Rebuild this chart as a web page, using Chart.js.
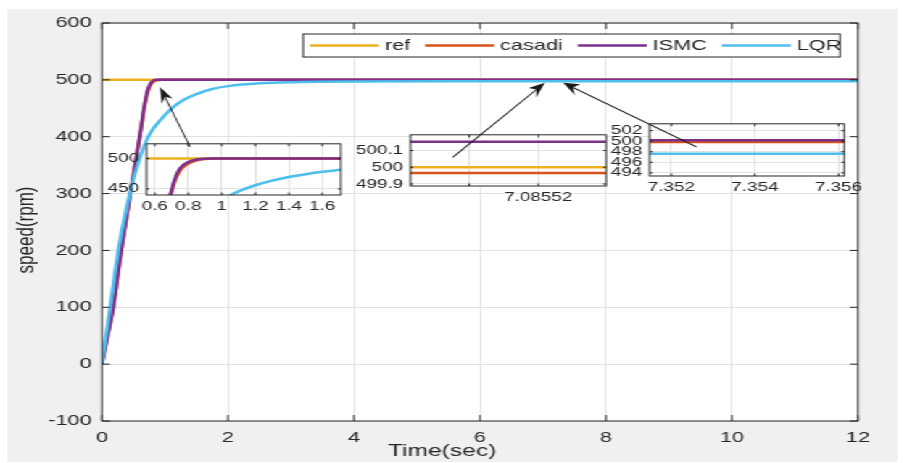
<!DOCTYPE html>
<html>
<head>
<meta charset="utf-8">
<script src="https://cdn.jsdelivr.net/npm/chart.js@4.4.0/dist/chart.umd.min.js"></script>
<style>
  html, body { margin: 0; padding: 0; background: #fff; overflow: hidden; }
  /* the reference figure is stretched sideways, so the whole stage is too */
  #stage { position: absolute; left: 0; top: 0; width: 623px; height: 463px; transform: scaleX(1.45); transform-origin: 0 0; }
  #figure { position: absolute; left: 4.8px; top: 9px; width: 614px; height: 453px; background: #f0f0f0; }
  canvas { position: absolute; }
</style>
</head>
<body>
<div id="stage">
  <div id="figure"></div>
  <canvas id="mainChart" width="623" height="463" style="left:0;top:0"></canvas>
  <canvas id="zoom1"></canvas>
  <canvas id="zoom2"></canvas>
  <canvas id="zoom3"></canvas>
  <canvas id="arrows" width="623" height="463" style="left:0;top:0"></canvas>
</div>
<script>
// ============================
// Data
// ============================
const seriesNames = ["ref", "casadi", "ISMC", "LQR"];
const seriesColors = ["#EDB120", "#D95319", "#7E2F8E", "#4DBEEE"];
const xAxisTitle = "Time(sec)";
const yAxisTitle = "speed(rpm)";

// main plot
const refTime = [0, 12];
const refSpeed = [500, 500];
const casadiTime = [0, 0.1, 0.18, 0.3, 0.45, 0.6, 0.68, 0.72, 0.76, 0.8, 0.86, 0.95, 12];
const casadiSpeed = [0, 55, 100, 195, 300, 400, 455, 476, 488, 495, 499, 500, 500];
const ismcTime = [0, 0.1, 0.18, 0.3, 0.45, 0.6, 0.68, 0.72, 0.76, 0.8, 0.86, 0.95, 12];
const ismcSpeed = [0, 55, 100, 195, 300, 400, 459, 480, 492, 497.5, 500, 500, 500];
const lqrTime = [0, 0.13, 0.26, 0.4, 0.5, 0.6, 0.7, 0.8, 0.95, 1.13, 1.3, 1.5, 1.75, 2, 2.5, 3, 4, 6, 12];
const lqrSpeed = [0, 100, 200, 280, 325, 362, 392, 412, 432, 452, 465, 475, 484, 489, 494, 496, 497.3, 497.6, 497.6];
const timeTicks = [0, 2, 4, 6, 8, 10, 12];
const speedTicks = [-100, 0, 100, 200, 300, 400, 500, 600];

// zoom 1 (rise)
const zoom1RefTime = [0.55, 1.71];
const zoom1RefSpeed = [500, 500];
const zoom1CasadiTime = [0.69, 0.7, 0.72, 0.75, 0.8, 0.85, 0.9, 0.96, 1.71];
const zoom1CasadiSpeed = [436, 445, 463, 480, 491.5, 497, 499.2, 500, 500];
const zoom1IsmcTime = [0.69, 0.7, 0.72, 0.75, 0.8, 0.85, 0.9, 0.96, 1.71];
const zoom1IsmcSpeed = [438, 448, 467, 484, 494, 498.2, 499.6, 500, 500];
const zoom1LqrTime = [1.04, 1.1, 1.2, 1.3, 1.4, 1.5, 1.6, 1.71];
const zoom1LqrSpeed = [438, 446, 456, 463.5, 469.5, 474, 478, 481.5];
const zoom1TimeTicks = [0.6, 0.8, 1, 1.2, 1.4, 1.6];
const zoom1SpeedTicks = [450, 500];

// zoom 2 (t ~ 7.0855)
const zoom2Time = [7.0855015, 7.0855298];
const zoom2RefSpeed = [500, 500];
const zoom2CasadiSpeed = [499.965, 499.965];
const zoom2IsmcSpeed = [500.153, 500.153];
const zoom2LqrSpeed = [497.6, 497.6];
const zoom2TimeTicks = [7.08551, 7.08552];
const zoom2TimeLabels = ["", "7.08552"];
const zoom2SpeedTicks = [499.9, 500, 500.1];

// zoom 3 (t ~ 7.354)
const zoom3Time = [7.35148, 7.35614];
const zoom3RefSpeed = [500, 500];
const zoom3CasadiSpeed = [499.85, 499.85];
const zoom3IsmcSpeed = [500.2, 500.2];
const zoom3LqrSpeed = [497.6, 497.6];
const zoom3TimeTicks = [7.352, 7.354, 7.356];
const zoom3SpeedTicks = [494, 496, 498, 500, 502];

// arrows, in main plot units: [tail, tip]
const pointerArrows = [
  [[1.40, 382], [0.92, 487.5]],
  [[5.57, 364], [7.03, 495]],
  [[9.44, 382], [7.32, 495]],
];

// ============================
// Look
// ============================
const STRETCH = 1.45;
const FONT = '"Liberation Sans", Arial, Helvetica, sans-serif';
const TEXT = "#262626";
const GRID = "#e1e1e1";

const zip = (xs, ys) => xs.map((x, i) => ({ x, y: ys[i] }));

function lineSet(i, xs, ys) {
  return {
    label: seriesNames[i],
    data: zip(xs, ys),
    borderColor: seriesColors[i],
    backgroundColor: seriesColors[i],
    borderWidth: 2.5,
    pointRadius: 0,
    cubicInterpolationMode: "monotone",
    order: 4 - i,
  };
}

// white plot area + box with inward ticks, like matlab axes
const matlabAxes = {
  id: "matlabAxes",
  beforeDraw(chart) {
    const { ctx, chartArea: a } = chart;
    ctx.save();
    ctx.fillStyle = "#fff";
    ctx.fillRect(a.left, a.top, a.right - a.left, a.bottom - a.top);
    ctx.restore();
  },
  afterDatasetsDraw(chart, args, opts) {
    const { ctx, chartArea: a, scales } = chart;
    ctx.save();
    ctx.strokeStyle = TEXT;
    ctx.lineWidth = 1;
    ctx.beginPath();
    scales.x.ticks.forEach((t) => {
      const px = scales.x.getPixelForValue(t.value);
      ctx.moveTo(px, a.bottom); ctx.lineTo(px, a.bottom - opts.tickX);
      ctx.moveTo(px, a.top); ctx.lineTo(px, a.top + opts.tickX);
    });
    scales.y.ticks.forEach((t) => {
      const py = scales.y.getPixelForValue(t.value);
      ctx.moveTo(a.left, py); ctx.lineTo(a.left + opts.tickY, py);
      ctx.moveTo(a.right, py); ctx.lineTo(a.right - opts.tickY, py);
    });
    ctx.stroke();
    ctx.strokeRect(a.left, a.top, a.right - a.left, a.bottom - a.top);
    ctx.restore();
  },
};

// legend box and axis titles of the main plot
const mainDecor = {
  id: "mainDecor",
  afterDraw(chart) {
    const { ctx, chartArea: a } = chart;
    ctx.save();
    ctx.fillStyle = TEXT;
    ctx.font = "17px " + FONT;
    ctx.textAlign = "center";
    ctx.textBaseline = "middle";
    ctx.fillText(xAxisTitle, a.left + 0.45 * (a.right - a.left), 451);
    ctx.translate(18.6, a.top + 0.52 * (a.bottom - a.top));
    ctx.rotate(-Math.PI / 2);
    ctx.fillText(yAxisTitle, 0, 0);
    ctx.restore();

    // legend
    const box = { left: 209, top: 34, right: 579.3, bottom: 57 };
    ctx.save();
    ctx.fillStyle = "#fff";
    ctx.fillRect(box.left, box.top, box.right - box.left, box.bottom - box.top);
    ctx.strokeStyle = TEXT;
    ctx.lineWidth = 1;
    ctx.strokeRect(box.left, box.top, box.right - box.left, box.bottom - box.top);
    ctx.font = "15px " + FONT;
    ctx.textBaseline = "middle";
    const cy = (box.top + box.bottom) / 2;
    let x = box.left + 4.8;
    chart.data.datasets.forEach((ds) => {
      ctx.strokeStyle = ds.borderColor;
      ctx.lineWidth = 2.5;
      ctx.beginPath();
      ctx.moveTo(x, cy); ctx.lineTo(x + 47.6, cy);
      ctx.stroke();
      x += 47.6 + 4;
      ctx.fillStyle = TEXT;
      ctx.fillText(ds.label, x, cy + 0.5);
      x += ctx.measureText(ds.label).width + 10.3;
    });
    ctx.restore();
  },
};

function tickScale(min, max, ticks, labels, fontSize, pad, size, horizontal) {
  return {
    type: "linear",
    min, max,
    afterBuildTicks: (axis) => { axis.ticks = ticks.map((v) => ({ value: v })); },
    afterFit: (axis) => { if (horizontal) axis.height = size; else axis.width = size; },
    grid: { color: GRID, lineWidth: 1, drawTicks: false },
    border: { display: false },
    ticks: {
      autoSkip: false, maxRotation: 0, padding: pad, color: TEXT,
      font: { family: FONT, size: fontSize },
      callback: (v, i) => (labels ? labels[i] : String(v)),
    },
  };
}

// ============================
// Main chart
// ============================
const mainChart = new Chart(document.getElementById("mainChart"), {
  type: "line",
  data: {
    datasets: [
      lineSet(0, refTime, refSpeed),
      lineSet(1, casadiTime, casadiSpeed),
      lineSet(2, ismcTime, ismcSpeed),
      lineSet(3, lqrTime, lqrSpeed),
    ],
  },
  options: {
    responsive: false,
    animation: false,
    events: [],
    layout: { padding: { left: 0, top: 23, right: 31.3, bottom: 0 }, autoPadding: false },
    plugins: {
      legend: { display: false },
      tooltip: { enabled: false },
      matlabAxes: { tickX: 6, tickY: 5.5 },
    },
    scales: {
      x: tickScale(0, 12, timeTicks, null, 15, 8, 42, true),
      y: tickScale(-100, 600, speedTicks, null, 15, 7, 70.3, false),
    },
  },
  plugins: [matlabAxes, mainDecor],
});

// ============================
// Zoomed insets
// ============================
function makeInset(id, box, xRange, yRange, xTicks, xLabels, yTicks, series) {
  const m = { l: 40, t: 12, r: 16, b: 24 };
  const canvas = document.getElementById(id);
  canvas.width = box.w + m.l + m.r;
  canvas.height = box.h + m.t + m.b;
  canvas.style.left = box.x - m.l + "px";
  canvas.style.top = box.y - m.t + "px";
  return new Chart(canvas, {
    type: "line",
    data: { datasets: series.map(([xs, ys], i) => lineSet(i, xs, ys)) },
    options: {
      responsive: false,
      animation: false,
      events: [],
      layout: { padding: { left: 0, top: m.t, right: m.r, bottom: 0 }, autoPadding: false },
      plugins: {
        legend: { display: false },
        tooltip: { enabled: false },
        matlabAxes: { tickX: 2.5, tickY: 2 },
      },
      scales: {
        x: tickScale(xRange[0], xRange[1], xTicks, xLabels, 13, 4, m.b, true),
        y: tickScale(yRange[0], yRange[1], yTicks, null, 13, 5, m.l, false),
      },
    },
    plugins: [matlabAxes],
  });
}

makeInset("zoom1", { x: 101, y: 143, w: 134, h: 52 }, [0.55, 1.71], [440, 524],
  zoom1TimeTicks, null, zoom1SpeedTicks, [
    [zoom1RefTime, zoom1RefSpeed],
    [zoom1CasadiTime, zoom1CasadiSpeed],
    [zoom1IsmcTime, zoom1IsmcSpeed],
    [zoom1LqrTime, zoom1LqrSpeed],
  ]);

makeInset("zoom2", { x: 283, y: 134, w: 135, h: 52 }, [7.0855015, 7.0855298], [499.888, 500.194],
  zoom2TimeTicks, zoom2TimeLabels, zoom2SpeedTicks, [
    [zoom2Time, zoom2RefSpeed],
    [zoom2Time, zoom2CasadiSpeed],
    [zoom2Time, zoom2IsmcSpeed],
    [zoom2Time, zoom2LqrSpeed],
  ]);

makeInset("zoom3", { x: 448, y: 123, w: 135, h: 53 }, [7.35148, 7.35614], [493.4, 503.3],
  zoom3TimeTicks, null, zoom3SpeedTicks, [
    [zoom3Time, zoom3RefSpeed],
    [zoom3Time, zoom3CasadiSpeed],
    [zoom3Time, zoom3IsmcSpeed],
    [zoom3Time, zoom3LqrSpeed],
  ]);

// ============================
// Arrows (on top of the insets)
// ============================
function drawArrows() {
  const ctx = document.getElementById("arrows").getContext("2d");
  const xs = mainChart.scales.x;
  const ys = mainChart.scales.y;
  // draw in on-screen pixels so the heads are not skewed by the stretch
  ctx.setTransform(1 / STRETCH, 0, 0, 1, 0, 0);
  ctx.strokeStyle = "#1a1a1a";
  ctx.fillStyle = "#1a1a1a";
  ctx.lineWidth = 1.2;
  pointerArrows.forEach(([from, to]) => {
    const x0 = xs.getPixelForValue(from[0]) * STRETCH;
    const y0 = ys.getPixelForValue(from[1]);
    const x1 = xs.getPixelForValue(to[0]) * STRETCH;
    const y1 = ys.getPixelForValue(to[1]);
    const len = Math.hypot(x1 - x0, y1 - y0);
    const ux = (x1 - x0) / len;
    const uy = (y1 - y0) / len;
    const head = 16, half = 6, notch = 11;
    ctx.beginPath();
    ctx.moveTo(x0, y0);
    ctx.lineTo(x1 - ux * notch, y1 - uy * notch);
    ctx.stroke();
    ctx.beginPath();
    ctx.moveTo(x1, y1);
    ctx.lineTo(x1 - ux * head - uy * half, y1 - uy * head + ux * half);
    ctx.lineTo(x1 - ux * notch, y1 - uy * notch);
    ctx.lineTo(x1 - ux * head + uy * half, y1 - uy * head - ux * half);
    ctx.closePath();
    ctx.fill();
  });
}
drawArrows();
</script>
</body>
</html>
